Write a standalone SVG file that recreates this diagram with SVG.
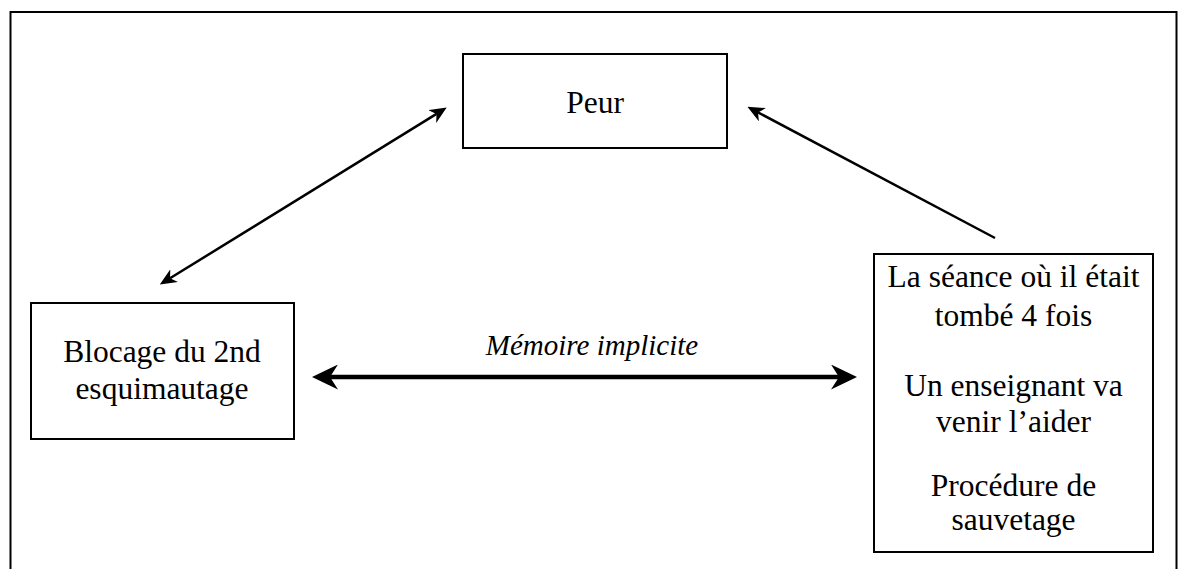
<svg xmlns="http://www.w3.org/2000/svg" width="1178" height="569" viewBox="0 0 1178 569">
  <style>
    .box { fill: #fff; stroke: #000; stroke-width: 2; }
    .frame { fill: none; stroke: #000; stroke-width: 2; }
    .lbl { font-family: "Liberation Serif", "Times New Roman", serif; font-size: 31.5px; fill: #000; text-anchor: middle; }
    .edge-lbl { font-family: "Liberation Serif", "Times New Roman", serif; font-size: 29px; font-style: italic; fill: #000; text-anchor: middle; }
    .thin { fill: none; stroke: #000; stroke-width: 2.5; }
    .thick { fill: none; stroke: #000; stroke-width: 4.5; }
  </style>
  <defs>
    <!-- stealth-style heads; refX sits at the notch so the shaft stops inside the head -->
    <marker id="headThin" markerUnits="userSpaceOnUse" viewBox="0 0 17 15" refX="5" refY="7.5" markerWidth="17" markerHeight="15" orient="auto-start-reverse">
      <path d="M17,7.5 L0,0 L5,7.5 L0,15 Z" fill="#000"/>
    </marker>
    <marker id="headThick" markerUnits="userSpaceOnUse" viewBox="0 0 26 25" refX="8" refY="12.5" markerWidth="26" markerHeight="25" orient="auto-start-reverse">
      <path d="M26,12.5 L0,0 L8,12.5 L0,25 Z" fill="#000"/>
    </marker>
  </defs>

  <rect width="1178" height="569" fill="#fff"/>

  <!-- outer frame, open at the bottom -->
  <path class="frame" d="M10.5,569 L10.5,12 L1176.5,12 L1176.5,569"/>

  <g id="connectors">
    <!-- Peur <-> Blocage -->
    <line class="thin" x1="170" y1="278.3" x2="436.5" y2="113.9" marker-start="url(#headThin)" marker-end="url(#headThin)"/>
    <!-- souvenirs -> Peur -->
    <line class="thin" x1="995" y1="238" x2="758" y2="112.4" marker-end="url(#headThin)"/>
    <!-- Blocage <-> souvenirs -->
    <line class="thick" x1="330" y1="377" x2="839" y2="377" marker-start="url(#headThick)" marker-end="url(#headThick)"/>
    <text class="edge-lbl" x="592" y="355">Mémoire implicite</text>
  </g>

  <g id="peur">
    <rect class="box" x="463" y="54" width="264" height="94"/>
    <text class="lbl" x="595" y="113">Peur</text>
  </g>

  <g id="blocage">
    <rect class="box" x="31" y="303" width="263" height="136"/>
    <text class="lbl" x="162" y="362">Blocage du 2nd</text>
    <text class="lbl" x="162" y="399">esquimautage</text>
  </g>

  <g id="souvenirs">
    <rect class="box" x="874" y="254" width="279" height="298"/>
    <text class="lbl" x="1013.5" y="287">La séance où il était</text>
    <text class="lbl" x="1013.5" y="326">tombé 4 fois</text>
    <text class="lbl" x="1013.5" y="396">Un enseignant va</text>
    <text class="lbl" x="1013.5" y="432">venir l’aider</text>
    <text class="lbl" x="1013.5" y="496">Procédure de</text>
    <text class="lbl" x="1013.5" y="530">sauvetage</text>
  </g>
</svg>
